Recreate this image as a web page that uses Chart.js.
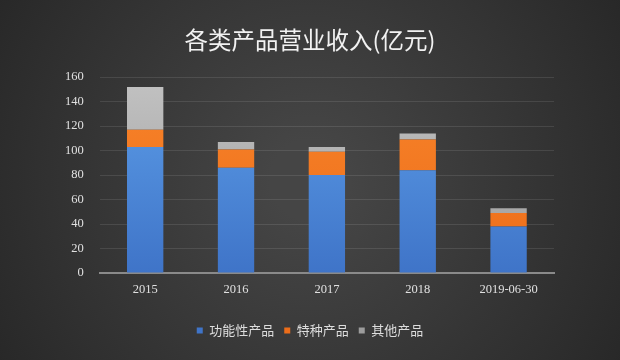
<!DOCTYPE html>
<html>
<head>
<meta charset="utf-8">
<script src="https://cdn.jsdelivr.net/npm/chart.js@4/dist/chart.umd.min.js"></script>
<style>
  html, body { margin: 0; padding: 0; background: #333; }
  #wrap { width: 620px; height: 360px; }
</style>
</head>
<body>
<div id="wrap"><canvas id="revChart" width="620" height="360"></canvas></div>
<script>
const years = ['2015', '2016', '2017', '2018', '2019-06-30']
const functional = [103, 86, 80, 84, 38]
const special = [14, 15, 19, 25, 11]
const other = [35, 6, 4, 5, 4]
const yTicks = [0, 20, 40, 60, 80, 100, 120, 140, 160]

// dark radial background
const bgPlugin = {
  id: 'bg',
  beforeDraw(chart) {
    const { ctx, width, height } = chart
    const g = ctx.createRadialGradient(width / 2, height / 2, 40, width / 2, height / 2, width * 0.6)
    g.addColorStop(0, '#454545')
    g.addColorStop(1, '#272727')
    ctx.save()
    ctx.fillStyle = g
    ctx.fillRect(0, 0, width, height)
    ctx.restore()
  }
}

// vertical gradient over the plot area
function vGrad(top, bottom) {
  return ctx => {
    const area = ctx.chart.chartArea
    if (!area) return bottom
    const g = ctx.chart.ctx.createLinearGradient(0, area.top, 0, area.bottom)
    g.addColorStop(0, top)
    g.addColorStop(1, bottom)
    return g
  }
}

const serif = '"Liberation Serif", "DejaVu Serif", serif'
const cjk = '"Noto Sans CJK SC", "Noto Sans", sans-serif'

new Chart(document.getElementById('revChart'), {
  type: 'bar',
  data: {
    labels: years,
    datasets: [
      { label: '功能性产品', data: functional, backgroundColor: vGrad('#5d9ee8', '#3f74c8') },
      { label: '特种产品', data: special, backgroundColor: vGrad('#f8842a', '#ec6d1a') },
      { label: '其他产品', data: other, backgroundColor: vGrad('#c2c2c2', '#9c9c9c') }
    ]
  },
  options: {
    responsive: false,
    animation: false,
    layout: { padding: { left: 0, right: 0, top: 0, bottom: 13 } },
    datasets: { bar: { barPercentage: 0.4, categoryPercentage: 1 } },
    plugins: {
      title: {
        display: true,
        text: '各类产品营业收入(亿元)',
        color: '#f2f2f2',
        font: { family: cjk, size: 23.5, weight: 'normal' },
        padding: { top: 26, bottom: 23 }
      },
      legend: {
        position: 'bottom',
        labels: {
          color: '#dddddd',
          boxWidth: 6,
          boxHeight: 6,
          padding: 10,
          font: { family: cjk, size: 13 }
        }
      },
      tooltip: { enabled: false }
    },
    scales: {
      x: {
        stacked: true,
        grid: { display: false },
        border: { color: '#8a8a8a', width: 2 },
        ticks: { color: '#e0e0e0', font: { family: serif, size: 12.5 }, padding: 1 },
        afterFit(axis) { axis.height += 16 }
      },
      y: {
        stacked: true,
        min: 0,
        max: 160,
        afterBuildTicks(axis) { axis.ticks = yTicks.map(v => ({ value: v })) },
        afterFit(axis) { axis.width += 49 },
        grid: { color: 'rgba(255,255,255,0.10)', drawTicks: false },
        border: { display: false },
        ticks: { color: '#e0e0e0', font: { family: serif, size: 12.5 }, padding: 16 }
      },
      // empty right margin so title and legend stay centred on the page
      pad: {
        position: 'right',
        grid: { display: false },
        border: { display: false },
        ticks: { display: false },
        afterFit(axis) { axis.width = 66 }
      }
    }
  },
  plugins: [bgPlugin]
})
</script>
</body>
</html>
